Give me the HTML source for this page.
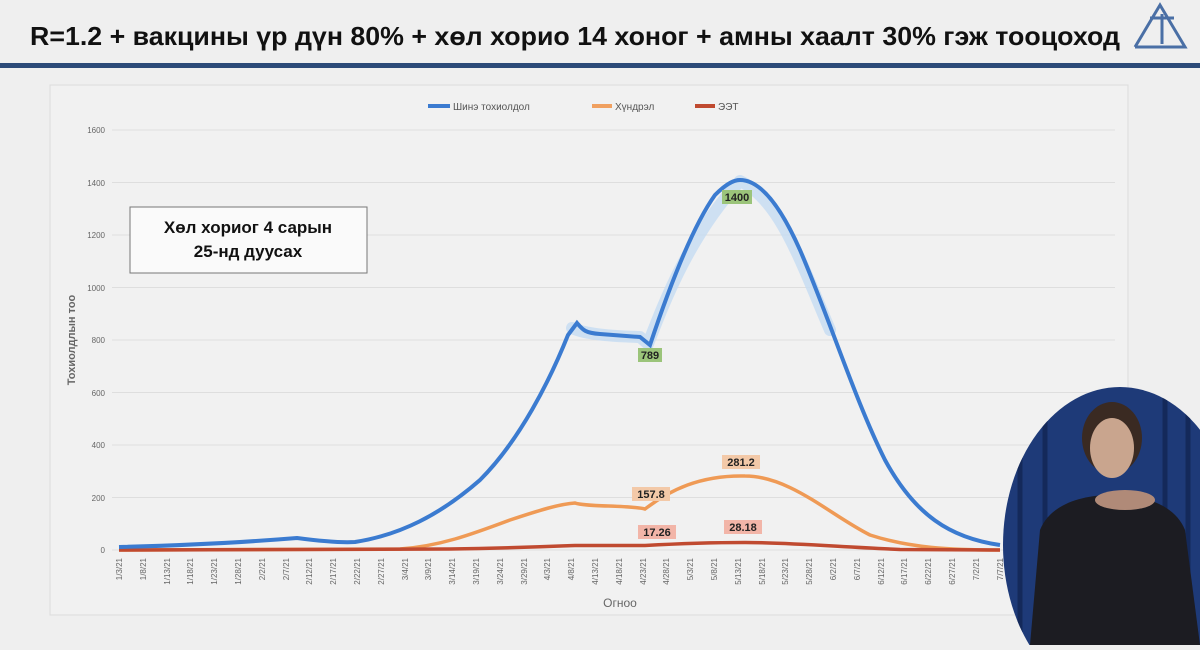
<!DOCTYPE html>
<html><head><meta charset="utf-8"><style>
body{margin:0;width:1200px;height:645px;background:#efefef;overflow:hidden;font-family:"Liberation Sans",sans-serif}
</style></head><body>
<svg width="1200" height="645" xmlns="http://www.w3.org/2000/svg" font-family="Liberation Sans, sans-serif">
<rect width="1200" height="645" fill="#efefef"/>
<text x="30" y="45" font-size="26" font-weight="bold" fill="#111" textLength="1090" lengthAdjust="spacingAndGlyphs">R=1.2 + вакцины үр дүн 80% + хөл хорио 14 хоног + амны хаалт 30% гэж тооцоход</text>
<rect x="0" y="63" width="1200" height="5" fill="#2c4a78"/>
<g stroke="#4a6fa5" stroke-width="3" fill="none">
<polyline points="1135,47 1160,5 1185,47 1135,47"/>
<path d="M1150,18 h24 M1162,14 v30"/>
</g>
<rect x="50" y="85" width="1078" height="530" fill="#f1f1f1" stroke="#dcdcdc"/>
<g stroke="#dedede" stroke-width="1">
<line x1="112" y1="130" x2="1115" y2="130"/><line x1="112" y1="182.5" x2="1115" y2="182.5"/>
<line x1="112" y1="235" x2="1115" y2="235"/><line x1="112" y1="287.5" x2="1115" y2="287.5"/>
<line x1="112" y1="340" x2="1115" y2="340"/><line x1="112" y1="392.5" x2="1115" y2="392.5"/>
<line x1="112" y1="445" x2="1115" y2="445"/><line x1="112" y1="497.5" x2="1115" y2="497.5"/>
<line x1="112" y1="550" x2="1115" y2="550"/>
</g>
<g font-size="8" fill="#666" text-anchor="end">
<text x="105" y="133">1600</text><text x="105" y="186">1400</text><text x="105" y="238">1200</text>
<text x="105" y="291">1000</text><text x="105" y="343">800</text><text x="105" y="396">600</text>
<text x="105" y="448">400</text><text x="105" y="501">200</text><text x="105" y="553">0</text>
</g>
<text transform="translate(75,340) rotate(-90)" font-size="11" font-weight="bold" fill="#666" text-anchor="middle">Тохиолдлын тоо</text>
<text x="620" y="607" font-size="12" fill="#666" text-anchor="middle">Огноо</text>
<g font-size="8" fill="#666" text-anchor="end">
<text transform="translate(122,558) rotate(-90)">1/3/21</text>
<text transform="translate(146,558) rotate(-90)">1/8/21</text>
<text transform="translate(170,558) rotate(-90)">1/13/21</text>
<text transform="translate(193,558) rotate(-90)">1/18/21</text>
<text transform="translate(217,558) rotate(-90)">1/23/21</text>
<text transform="translate(241,558) rotate(-90)">1/28/21</text>
<text transform="translate(265,558) rotate(-90)">2/2/21</text>
<text transform="translate(289,558) rotate(-90)">2/7/21</text>
<text transform="translate(312,558) rotate(-90)">2/12/21</text>
<text transform="translate(336,558) rotate(-90)">2/17/21</text>
<text transform="translate(360,558) rotate(-90)">2/22/21</text>
<text transform="translate(384,558) rotate(-90)">2/27/21</text>
<text transform="translate(408,558) rotate(-90)">3/4/21</text>
<text transform="translate(431,558) rotate(-90)">3/9/21</text>
<text transform="translate(455,558) rotate(-90)">3/14/21</text>
<text transform="translate(479,558) rotate(-90)">3/19/21</text>
<text transform="translate(503,558) rotate(-90)">3/24/21</text>
<text transform="translate(527,558) rotate(-90)">3/29/21</text>
<text transform="translate(550,558) rotate(-90)">4/3/21</text>
<text transform="translate(574,558) rotate(-90)">4/8/21</text>
<text transform="translate(598,558) rotate(-90)">4/13/21</text>
<text transform="translate(622,558) rotate(-90)">4/18/21</text>
<text transform="translate(646,558) rotate(-90)">4/23/21</text>
<text transform="translate(669,558) rotate(-90)">4/28/21</text>
<text transform="translate(693,558) rotate(-90)">5/3/21</text>
<text transform="translate(717,558) rotate(-90)">5/8/21</text>
<text transform="translate(741,558) rotate(-90)">5/13/21</text>
<text transform="translate(765,558) rotate(-90)">5/18/21</text>
<text transform="translate(788,558) rotate(-90)">5/23/21</text>
<text transform="translate(812,558) rotate(-90)">5/28/21</text>
<text transform="translate(836,558) rotate(-90)">6/2/21</text>
<text transform="translate(860,558) rotate(-90)">6/7/21</text>
<text transform="translate(884,558) rotate(-90)">6/12/21</text>
<text transform="translate(907,558) rotate(-90)">6/17/21</text>
<text transform="translate(931,558) rotate(-90)">6/22/21</text>
<text transform="translate(955,558) rotate(-90)">6/27/21</text>
<text transform="translate(979,558) rotate(-90)">7/2/21</text>
<text transform="translate(1003,558) rotate(-90)">7/7/21</text>
</g>
<g font-size="10" fill="#555">
<line x1="428" y1="106" x2="450" y2="106" stroke="#3b7bd0" stroke-width="4"/><text x="453" y="110">Шинэ тохиолдол</text>
<line x1="592" y1="106" x2="612" y2="106" stroke="#f0a060" stroke-width="4"/><text x="615" y="110">Хүндрэл</text>
<line x1="695" y1="106" x2="715" y2="106" stroke="#c04a30" stroke-width="4"/><text x="718" y="110">ЭЭТ</text>
</g>
<rect x="130" y="207" width="237" height="66" fill="#fafafa" stroke="#777"/>
<text x="248" y="233" font-size="17" font-weight="bold" fill="#111" text-anchor="middle">Хөл хориог 4 сарын</text>
<text x="248" y="257" font-size="17" font-weight="bold" fill="#111" text-anchor="middle">25-нд дуусах</text>
<path d="M572,328 C580,332 600,336 640,337 L648,344 C665,300 690,235 740,181 C780,200 800,260 830,330" fill="none" stroke="#c6dcf2" stroke-width="12" stroke-linecap="round" stroke-linejoin="round" opacity="0.8"/>
<path d="M119,550 L400,549 C440,546 470,535 510,520 C540,510 560,504 575,503 C585,507 630,505 645,509 C670,490 700,475 745,476 C790,476 830,515 870,535 C910,548 950,550 1000,550" fill="none" stroke="#ef9a55" stroke-width="3.5"/>
<path d="M119,550 L450,549 C520,548 560,546 575,545.5 L645,545.5 C690,543 720,542.5 745,542.5 C790,542.5 840,547 900,549.5 L1000,550" fill="none" stroke="#c04a30" stroke-width="3.5"/>
<path d="M119,547 C200,545 260,541 297,538 C320,541 340,543 355,542 C400,535 440,515 480,480 C520,440 550,380 568,335 L577,323 C583,330 585,333 600,334 L640,337 L650,345 C665,300 690,230 715,195 C728,182 735,180 740,180 C760,180 780,205 800,250 C830,320 855,400 885,460 C915,515 950,538 1000,545" fill="none" stroke="#3b7bd0" stroke-width="4"/>
<g font-size="11" font-weight="bold" fill="#222" text-anchor="middle">
<rect x="722" y="190" width="30" height="14" fill="#9bc47a"/><text x="737" y="201">1400</text>
<rect x="638" y="348" width="24" height="14" fill="#9bc47a"/><text x="650" y="359">789</text>
<rect x="632" y="487" width="38" height="14" fill="#f3c9a8"/><text x="651" y="498">157.8</text>
<rect x="722" y="455" width="38" height="14" fill="#f3c9a8"/><text x="741" y="466">281.2</text>
<rect x="638" y="525" width="38" height="14" fill="#f2b5a8"/><text x="657" y="536">17.26</text>
<rect x="724" y="520" width="38" height="14" fill="#f2b5a8"/><text x="743" y="531">28.18</text>
</g>
<defs><clipPath id="c"><ellipse cx="1120" cy="545" rx="117" ry="158"/></clipPath></defs>
<g clip-path="url(#c)">
<rect x="1000" y="380" width="240" height="265" fill="#1e3a78"/>
<g stroke="#14295a" stroke-width="5"><line x1="1020" y1="380" x2="1020" y2="645"/><line x1="1045" y1="380" x2="1045" y2="645"/><line x1="1165" y1="380" x2="1165" y2="645"/><line x1="1188" y1="380" x2="1188" y2="645"/></g>
<ellipse cx="1112" cy="438" rx="30" ry="36" fill="#3a2a22"/>
<ellipse cx="1112" cy="448" rx="22" ry="30" fill="#c9a58e"/>
<path d="M1030,645 L1040,530 C1050,505 1080,495 1112,495 C1145,495 1175,505 1185,530 L1200,645 Z" fill="#1c1c22"/>
<ellipse cx="1125" cy="500" rx="30" ry="10" fill="#b08a78"/>
</g>
</svg>
</body></html>
